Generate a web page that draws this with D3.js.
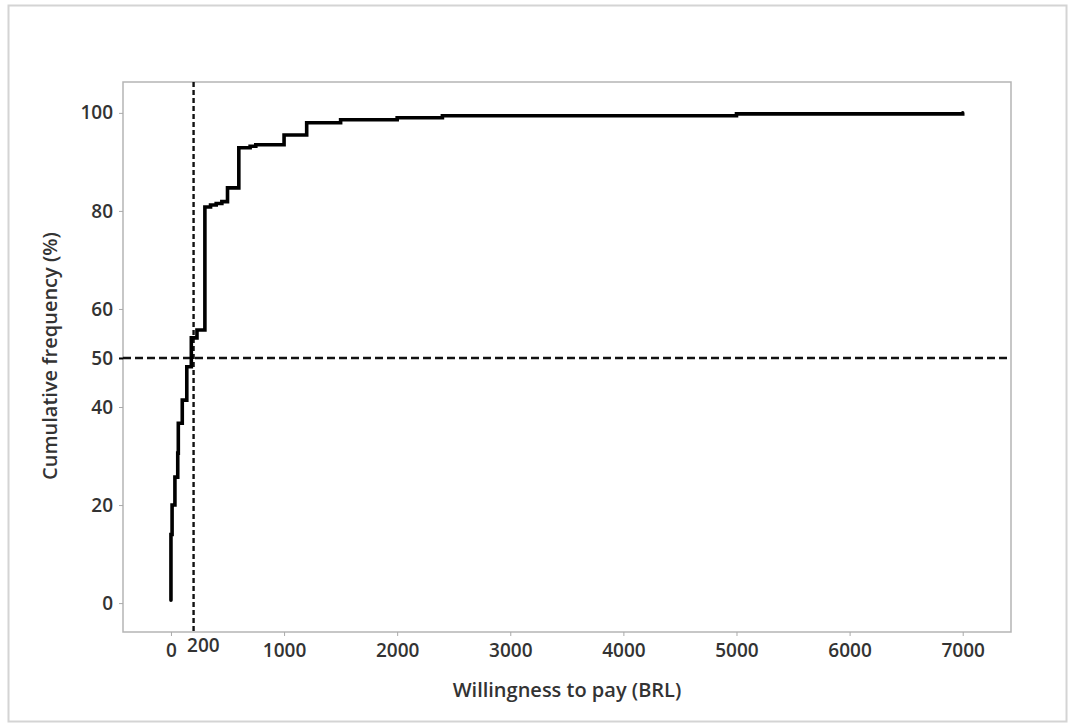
<!DOCTYPE html>
<html>
<head>
<meta charset="utf-8">
<script src="https://cdn.jsdelivr.net/npm/d3@7"></script>
<style>
  body { margin: 0; background: #fff; }
  svg { display: block; }
  text { font-family: "Open Sans", "Noto Sans", sans-serif; fill: #333; }
</style>
</head>
<body>
<svg id="chart" width="1072" height="725"></svg>
<script>
// data: willingness to pay (BRL) vs cumulative %
const wtp = [0, 0, 10, 35, 60, 65, 100, 140, 180, 230, 300, 350, 400, 450, 500, 600, 700, 750, 1000, 1200, 1500, 2000, 2400, 5000, 7000];
const cumPct = [0.6, 14, 20, 25.7, 30.6, 36.7, 41.4, 48.2, 54.1, 55.7, 80.8, 81.2, 81.5, 81.9, 84.7, 92.9, 93.2, 93.5, 95.5, 98.0, 98.6, 99.0, 99.4, 99.8, 100];
const yTicks = [0, 20, 40, 50, 60, 80, 100];
const xTicks = [0, 200, 1000, 2000, 3000, 4000, 5000, 6000, 7000];
const medianX = 200;
const halfY = 50;

const svg = d3.select("#chart");

// outer light border
svg.append("rect")
  .attr("x", 8.5).attr("y", 5.5)
  .attr("width", 1058).attr("height", 716)
  .attr("fill", "none")
  .attr("stroke", "#d4d4d4")
  .attr("stroke-width", 2);

const frame = {left: 123, top: 82, right: 1011, bottom: 632};

// scales, domain chosen so the frame sits where the reference has it
let x = d3.scaleLinear().domain([-424, 7427]).range([frame.left, frame.right]);
let y = d3.scaleLinear().domain([-5.9, 106.3]).range([frame.bottom, frame.top]);

// plot frame
svg.append("rect")
  .attr("x", frame.left).attr("y", frame.top)
  .attr("width", frame.right - frame.left)
  .attr("height", frame.bottom - frame.top)
  .attr("fill", "none")
  .attr("stroke", "#b5b5b5")
  .attr("stroke-width", 1.5);

// y axis
const yAxis = svg.append("g")
  .attr("transform", `translate(${frame.left},0)`)
  .call(d3.axisLeft(y).tickValues(yTicks).tickSize(4).tickPadding(6));
yAxis.select(".domain").remove();
yAxis.selectAll(".tick line")
  .attr("stroke", d => d === halfY ? "#000" : "#aaa")
  .attr("stroke-width", d => d === halfY ? 2 : 1);
yAxis.selectAll(".tick text")
  .attr("font-size", 19)
  .attr("font-weight", 600)
  .attr("font-family", "'Open Sans', sans-serif")
  .attr("fill", "#333");

// x axis
const xAxis = svg.append("g")
  .attr("transform", `translate(0,${frame.bottom})`)
  .call(d3.axisBottom(x).tickValues(xTicks).tickFormat(d3.format("d")).tickSize(4).tickPadding(8));
xAxis.select(".domain").remove();
xAxis.selectAll(".tick line")
  .attr("stroke", "#aaa")
  .attr("opacity", d => d === medianX ? 0 : 1);
xAxis.selectAll(".tick text")
  .attr("font-size", 19)
  .attr("font-weight", 600)
  .attr("font-family", "'Open Sans', sans-serif")
  .attr("fill", "#333");
// the 200 label is nudged right/up so it clears the 0
xAxis.selectAll(".tick text")
  .filter(d => d === medianX)
  .attr("text-anchor", "start")
  .attr("x", -7)
  .attr("dy", "0.42em");

// axis titles
svg.append("text")
  .attr("x", 567).attr("y", 697)
  .attr("text-anchor", "middle")
  .attr("font-size", 20)
  .attr("font-weight", 600)
  .text("Willingness to pay (BRL)");

svg.append("text")
  .attr("transform", "translate(57,356) rotate(-90)")
  .attr("text-anchor", "middle")
  .attr("font-size", 20)
  .attr("font-weight", 600)
  .text("Cumulative frequency (%)");

// reference lines
svg.append("line")
  .attr("x1", frame.left).attr("x2", frame.right)
  .attr("y1", y(halfY)).attr("y2", y(halfY))
  .attr("stroke", "#111")
  .attr("stroke-width", 2.4)
  .attr("stroke-dasharray", "8,4");

svg.append("line")
  .attr("x1", x(medianX)).attr("x2", x(medianX))
  .attr("y1", frame.top).attr("y2", frame.bottom)
  .attr("stroke", "#111")
  .attr("stroke-width", 2.4)
  .attr("stroke-dasharray", "5,3");

// cumulative step line
const pts = wtp.map((v, i) => [v, cumPct[i]]);
const line = d3.line()
  .x(d => x(d[0]))
  .y(d => y(d[1]))
  .curve(d3.curveStepAfter);

svg.append("path")
  .datum(pts)
  .attr("d", line)
  .attr("fill", "none")
  .attr("stroke", "#000")
  .attr("stroke-width", 3.6)
  .attr("stroke-linecap", "round")
  .attr("stroke-linejoin", "miter");
</script>
</body>
</html>
